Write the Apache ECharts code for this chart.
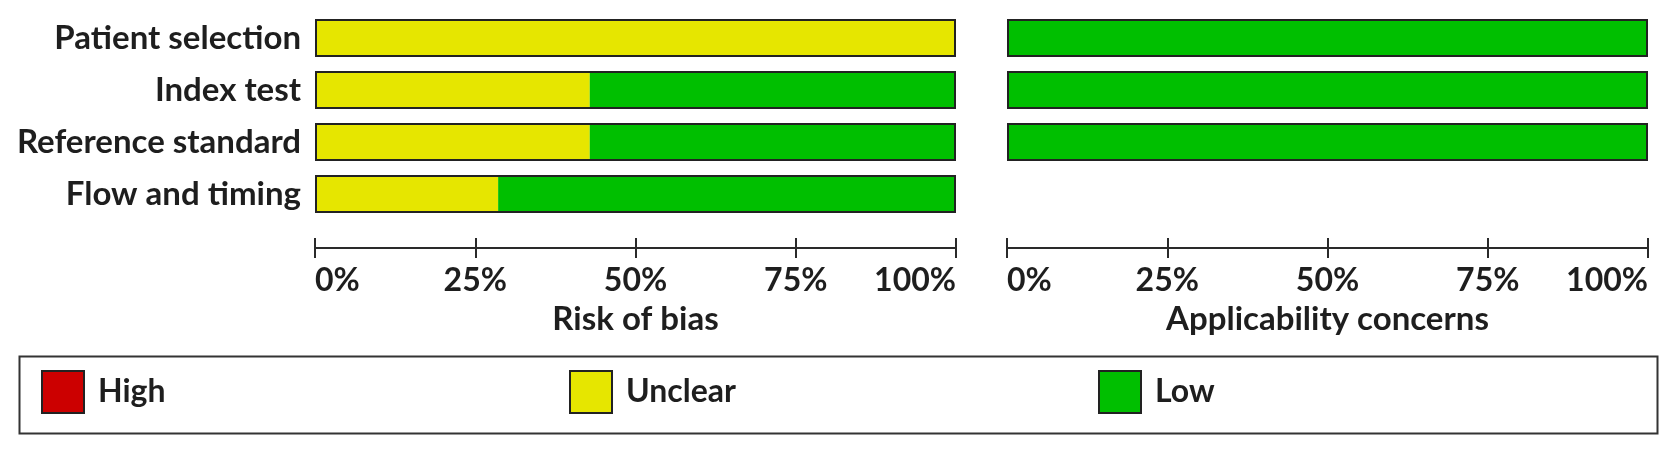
<!DOCTYPE html>
<html>
<head>
<meta charset="utf-8">
<script src="https://cdn.jsdelivr.net/npm/echarts@6/dist/echarts.min.js"></script>
<style>
html,body{margin:0;padding:0;background:#fff;}
#chart{width:1677px;height:452px;}
</style>
</head>
<body>
<div id="chart"></div>
<script>
// ---- data ----
const categories = ['Patient selection', 'Index test', 'Reference standard', 'Flow and timing'];
const legendLabels = ['High', 'Unclear', 'Low'];
const panelTitles = ['Risk of bias', 'Applicability concerns'];
const tickLabels = ['0%', '25%', '50%', '75%', '100%'];
const tickValues = [0, 25, 50, 75, 100];

// Risk of bias (percent of studies)
const riskHigh    = [0, 0, 0, 0];
const riskUnclear = [100, 42.86, 42.86, 28.57];
const riskLow     = [0, 57.14, 57.14, 71.43];

// Applicability concerns (no domain for Flow and timing)
const applHigh    = [0, 0, 0, null];
const applUnclear = [0, 0, 0, null];
const applLow     = [100, 100, 100, null];

// ---- styles ----
const colors = { High: '#cc0000', Unclear: '#e6e600', Low: '#00bf00' };
const legendLefts = [41, 569, 1098];
const FONT = 'Lato';
const TXT = '#1e1e1e';
const LINE = '#2a2a2a';

function nz(arr) { return arr.map(v => (v === 0 || v === null) ? '-' : v); }
function totals(a, b, c) {
  return a.map((_, i) => (a[i] === null && b[i] === null && c[i] === null) ? '-' : (a[i] || 0) + (b[i] || 0) + (c[i] || 0));
}

const grids = [
  { left: 315, right: 721, top: 12, height: 208 },
  { left: 1007, right: 29, top: 12, height: 208 }
];

function xAxesFor(gridIndex, title) {
  const base = {
    type: 'value', gridIndex: gridIndex, min: 0, max: 100, interval: 25,
    position: 'bottom', offset: 28, splitLine: { show: false }
  };
  return [
    Object.assign({}, base, {
      axisLine: { show: true, lineStyle: { color: LINE, width: 2 } },
      axisTick: { show: true, inside: true, length: 10, lineStyle: { color: LINE, width: 2 } },
      axisLabel: { show: false }
    }),
    Object.assign({}, base, {
      axisLine: { show: false },
      axisTick: { show: true, inside: false, length: 10, lineStyle: { color: LINE, width: 2 } },
      axisLabel: {
        show: true, margin: 17,
        fontFamily: FONT, fontWeight: 'bold', fontSize: 32, color: TXT,
        alignMinLabel: 'left', alignMaxLabel: 'right',
        formatter: v => tickLabels[tickValues.indexOf(v)]
      },
      name: title, nameLocation: 'middle', nameGap: 55,
      nameTextStyle: { fontFamily: FONT, fontWeight: 'bold', fontSize: 33, color: TXT }
    })
  ];
}

const yAxes = [0, 1].map(g => ({
  type: 'category', gridIndex: g, data: categories, inverse: true,
  axisLine: { show: false }, axisTick: { show: false },
  axisLabel: {
    show: g === 0, margin: 14,
    fontFamily: FONT, fontWeight: 'bold', fontSize: 33, color: TXT
  }
}));

function segSeries(name, data, xi, yi) {
  return {
    name: name, type: 'bar', stack: 'panel' + yi, xAxisIndex: xi, yAxisIndex: yi,
    barWidth: 38, data: nz(data),
    itemStyle: { color: colors[name], borderWidth: 0 },
    emphasis: { disabled: true }, silent: true
  };
}
function outlineSeries(data, xi, yi) {
  return {
    name: 'outline', type: 'bar', xAxisIndex: xi, yAxisIndex: yi,
    barWidth: 38, barGap: '-100%', z: 5, data: data,
    itemStyle: { color: 'rgba(0,0,0,0)', borderColor: '#222', borderWidth: 2 },
    emphasis: { disabled: true }, silent: true
  };
}

const series = [
  segSeries('High', riskHigh, 0, 0),
  segSeries('Unclear', riskUnclear, 0, 0),
  segSeries('Low', riskLow, 0, 0),
  outlineSeries(totals(riskHigh, riskUnclear, riskLow), 0, 0),
  segSeries('High', applHigh, 2, 1),
  segSeries('Unclear', applUnclear, 2, 1),
  segSeries('Low', applLow, 2, 1),
  outlineSeries(totals(applHigh, applUnclear, applLow), 2, 1)
];

const legends = legendLabels.map((n, i) => ({
  data: [{ name: n, itemStyle: { color: colors[n], borderColor: '#222', borderWidth: 2 } }],
  left: legendLefts[i], top: 370, orient: 'horizontal', icon: 'rect',
  itemWidth: 42, itemHeight: 42, padding: 0,
  selectedMode: false,
  textStyle: { fontFamily: FONT, fontWeight: 'bold', fontSize: 32, color: TXT, padding: [4, 0, 0, 9] }
}));

const option = {
  animation: false,
  backgroundColor: '#ffffff',
  grid: grids,
  xAxis: xAxesFor(0, panelTitles[0]).concat(xAxesFor(1, panelTitles[1])),
  yAxis: yAxes,
  legend: legends,
  graphic: [{
    type: 'rect', left: 17, top: 354, silent: true, z: -1,
    shape: { width: 1638, height: 77 },
    style: { fill: 'none', stroke: '#333', lineWidth: 2 }
  }],
  series: series
};

const chart = echarts.init(document.getElementById('chart'), null, { renderer: 'canvas' });
chart.setOption(option);
</script>
</body>
</html>
